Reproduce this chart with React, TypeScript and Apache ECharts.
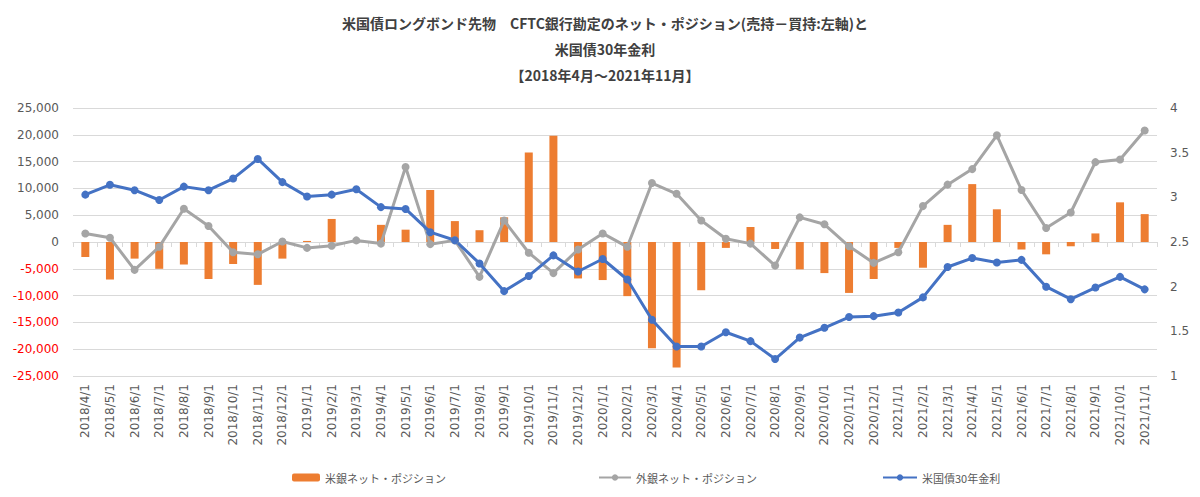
import React, { useEffect, useRef } from "react";
import * as echarts from "echarts";

const categories: string[] = [
  "2018/4/1", "2018/5/1", "2018/6/1", "2018/7/1", "2018/8/1", "2018/9/1", "2018/10/1", "2018/11/1", "2018/12/1",
  "2019/1/1", "2019/2/1", "2019/3/1", "2019/4/1", "2019/5/1", "2019/6/1", "2019/7/1", "2019/8/1", "2019/9/1",
  "2019/10/1", "2019/11/1", "2019/12/1",
  "2020/1/1", "2020/2/1", "2020/3/1", "2020/4/1", "2020/5/1", "2020/6/1", "2020/7/1", "2020/8/1", "2020/9/1",
  "2020/10/1", "2020/11/1", "2020/12/1",
  "2021/1/1", "2021/2/1", "2021/3/1", "2021/4/1", "2021/5/1", "2021/6/1", "2021/7/1", "2021/8/1", "2021/9/1",
  "2021/10/1", "2021/11/1",
];

const usBanksNet: number[] = [
  -2800, -7000, -3100, -5000, -4200, -6900, -4100, -8000, -3100,
  200, 4300, 0, 3200, 2300, 9700, 3900, 2200, 4600,
  16700, 19800, -6800,
  -7100, -10100, -19800, -23400, -9000, -1100, 2800, -1300, -5100,
  -5800, -9500, -6900,
  -1100, -4800, 3200, 10800, 6100, -1400, -2300, -800, 1600,
  7400, 5200,
];

const foreignBanksNet: number[] = [
  1600, 800, -5200, -900, 6200, 3000, -1900, -2300, 100,
  -1100, -700, 300, -300, 14000, -400, 300, -6500, 4000,
  -2000, -5800, -1400,
  1600, -900, 11000, 9000, 4000, 600, -300, -4400, 4600,
  3300, -800, -3900,
  -1900, 6700, 10700, 13600, 19900, 9700, 2600, 5500, 14900,
  15400, 20800,
];

const yield30y: number[] = [
  3.03, 3.14, 3.08, 2.97, 3.12, 3.08, 3.21, 3.43, 3.17,
  3.01, 3.03, 3.09, 2.89, 2.87, 2.61, 2.52, 2.26, 1.95,
  2.12, 2.35, 2.17,
  2.31, 2.08, 1.63, 1.33, 1.33, 1.49, 1.39, 1.19, 1.43,
  1.54, 1.66, 1.67,
  1.71, 1.88, 2.22, 2.32, 2.27, 2.30, 2.00, 1.86, 1.99,
  2.11, 1.97,
];

const seriesNames = ["米銀ネット・ポジション", "外銀ネット・ポジション", "米国債30年金利"];
const titleText = "米国債ロングボンド先物　CFTC銀行勘定のネット・ポジション(売持－買持:左軸)と\n米国債30年金利\n【2018年4月～2021年11月】";

const NUM_FONT = "DejaVu Sans";
const CJK_FONT = "Noto Sans CJK JP";
const GRAY_TEXT = "#595959";

export default function App() {
  const ref = useRef<HTMLDivElement>(null);
  useEffect(() => {
    if (!ref.current) return;
    const chart = echarts.init(ref.current, undefined, { renderer: "svg" });
    const fmt = (v: number) => v.toLocaleString("en-US");
    const legendBase = {
      top: 472,
      padding: 0,
      itemHeight: 8,
      textStyle: { color: GRAY_TEXT, fontSize: 11, fontFamily: CJK_FONT },
    };
    chart.setOption({
      animation: false,
      backgroundColor: "#ffffff",
      title: {
        text: titleText,
        left: 600,
        top: 5,
        textAlign: "center",
        textStyle: {
          fontFamily: CJK_FONT,
          fontSize: 14,
          fontWeight: "bold",
          color: "#404040",
          lineHeight: 26,
        },
      },
      legend: [
        { ...legendBase, left: 292, itemWidth: 28, data: [seriesNames[0]] },
        { ...legendBase, left: 598, itemWidth: 32, data: [seriesNames[1]] },
        { ...legendBase, left: 882, itemWidth: 34, data: [seriesNames[2]] },
      ],
      grid: { left: 73, right: 43, top: 108, bottom: 121, containLabel: false },
      xAxis: {
        type: "category",
        data: categories,
        boundaryGap: true,
        axisLine: { lineStyle: { color: "#d9d9d9" } },
        axisTick: { show: true, alignWithLabel: false, length: 5, lineStyle: { color: "#d9d9d9" } },
        axisLabel: {
          rotate: 90,
          interval: 0,
          color: GRAY_TEXT,
          fontSize: 12,
          fontFamily: NUM_FONT,
          margin: 8,
        },
      },
      yAxis: [
        {
          type: "value",
          min: -25000,
          max: 25000,
          interval: 5000,
          axisLine: { show: false },
          axisTick: { show: false },
          splitLine: { lineStyle: { color: "#d9d9d9", width: 1 } },
          axisLabel: {
            margin: 14,
            fontFamily: NUM_FONT,
            fontSize: 12,
            formatter: (v: number) => (v < 0 ? `{neg|${fmt(v)}}` : `{pos|${fmt(v)}}`),
            rich: {
              neg: { color: "#ff0000", fontFamily: NUM_FONT, fontSize: 12 },
              pos: { color: GRAY_TEXT, fontFamily: NUM_FONT, fontSize: 12 },
            },
          },
        },
        {
          type: "value",
          min: 1,
          max: 4,
          interval: 0.5,
          position: "right",
          axisLine: { show: false },
          axisTick: { show: false },
          splitLine: { show: false },
          axisLabel: { margin: 13, color: GRAY_TEXT, fontFamily: NUM_FONT, fontSize: 12 },
        },
      ],
      series: [
        {
          name: seriesNames[0],
          type: "bar",
          yAxisIndex: 0,
          data: usBanksNet,
          barWidth: 8,
          itemStyle: { color: "#ed7d31" },
        },
        {
          name: seriesNames[1],
          type: "line",
          yAxisIndex: 0,
          data: foreignBanksNet,
          symbol: "circle",
          symbolSize: 8,
          lineStyle: { color: "#a5a5a5", width: 3 },
          itemStyle: { color: "#a5a5a5" },
        },
        {
          name: seriesNames[2],
          type: "line",
          yAxisIndex: 1,
          data: yield30y,
          symbol: "circle",
          symbolSize: 8,
          lineStyle: { color: "#4472c4", width: 3 },
          itemStyle: { color: "#4472c4" },
        },
      ],
    });
    return () => chart.dispose();
  }, []);
  return (
    <div
      ref={ref}
      style={{ position: "fixed", left: 0, top: 0, width: 1200, height: 497, background: "#fff" }}
    />
  );
}
